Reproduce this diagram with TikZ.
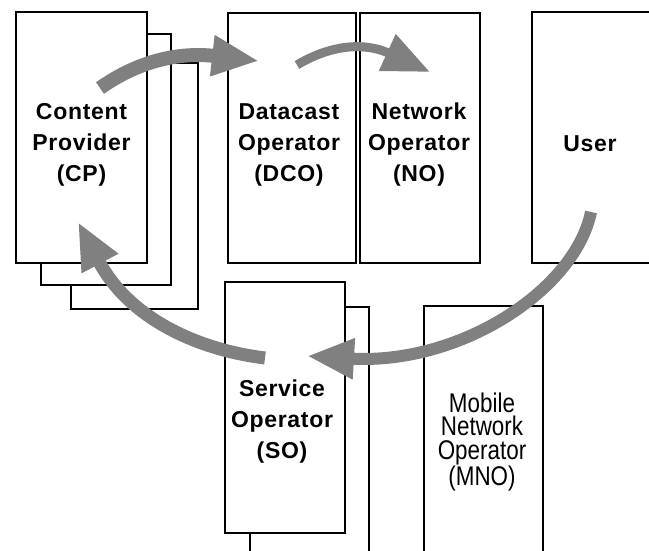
\documentclass[tikz,border=0pt]{standalone}
\usepackage{fontspec}
\setmainfont{Liberation Sans}
\usetikzlibrary{arrows.meta}
\definecolor{flow}{HTML}{808080}
\begin{document}
\begin{tikzpicture}[x=1pt,y=-1pt,
  box/.style={draw=black,line width=2pt,fill=white,anchor=north west,inner sep=0pt},
  lbl/.style={align=center,inner sep=0pt,font=\fontsize{23}{31}\selectfont\bfseries\addfontfeature{LetterSpace=3}},
  plain/.style={align=center,inner sep=0pt,font=\fontsize{27}{23.5}\selectfont\addfontfeature{FakeStretch=0.83}},
  flowarrow/.style={draw=flow,line cap=butt,-{Triangle[length=47pt,width=38pt]}}]
\path[use as bounding box] (0,0) rectangle (649,550);
\clip (0,0) rectangle (649,550);
\fill[white] (0,0) rectangle (649,550);
% boxes
\node[box,minimum width=127pt,minimum height=246pt] (cpc) at (70,62) {};
\node[box,minimum width=130pt,minimum height=251pt] (cpb) at (40,33) {};
\node[box,minimum width=131pt,minimum height=251pt] (cp) at (15,11) {};
\node[box,minimum width=128pt,minimum height=250pt] (dco) at (227,12) {};
\node[box,minimum width=120pt,minimum height=250pt] (no) at (359,12) {};
\node[box,minimum width=150pt,minimum height=251pt] (user) at (531,11) {};
\node[box,minimum width=119pt,minimum height=270pt] (sob) at (249,306) {};
\node[box,minimum width=120pt,minimum height=251pt] (so) at (224,281) {};
\node[box,minimum width=119pt,minimum height=270pt] (mno) at (423,305) {};
% labels
\node[lbl] (cpt) at (81.5,145) {Content\\Provider\\(CP)};
\node[lbl] (dcot) at (289,145) {Datacast\\Operator\\(DCO)};
\node[lbl] (not) at (419,145) {Network\\Operator\\(NO)};
\node[lbl] (usert) at (590,143.5) {User};
\node[lbl] (sot) at (282,421.5) {Service\\Operator\\(SO)};
\node[plain] (mnot) at (482,442) {Mobile\\Network\\Operator\\(MNO)};
% arrows
\coordinate (a1s) at (100,88);  \coordinate (a1e) at (259,61);
\coordinate (a2s) at (297,65);  \coordinate (a2e) at (430,72);
\coordinate (a3s) at (591,212); \coordinate (a3e) at (307,356);
\coordinate (a4s) at (265,358); \coordinate (a4e) at (78,222);
\draw[flowarrow,line width=14pt] (a1s) .. controls (140,60) and (180,52) .. (a1e);
\draw[flowarrow,line width=9pt] (a2s) .. controls (325,48) and (360,40) .. (a2e);
\draw[flowarrow,line width=12pt] (a3s) .. controls (575,290) and (460,365) .. (a3e);
\draw[flowarrow,line width=13pt] (a4s) .. controls (200,350) and (130,320) .. (a4e);
\end{tikzpicture}
\end{document}
